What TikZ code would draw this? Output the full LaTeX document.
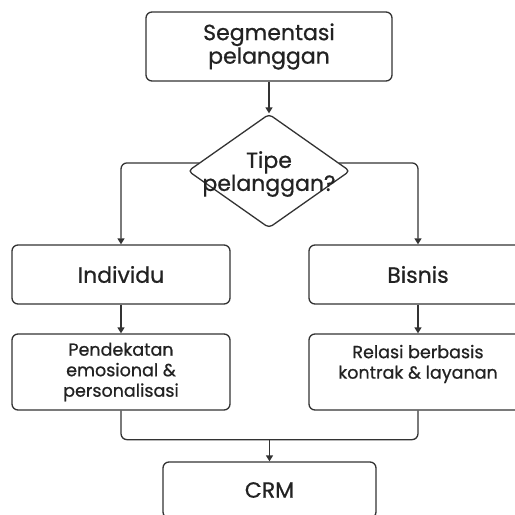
\documentclass[tikz,border=0pt]{standalone}
\usepackage{fontspec}
\setmainfont{Poppins}[FakeBold=0.7]
\usetikzlibrary{shapes.geometric,arrows.meta,calc}
\definecolor{ink}{HTML}{222222}
\definecolor{edge}{HTML}{333333}
\begin{document}
\begin{tikzpicture}[x=1pt,y=-1pt,
  box/.style={draw=edge,line width=1.3pt,rounded corners=6pt,align=center,inner sep=0pt,text=ink},
  big/.style={font=\fontsize{22}{23.5}\selectfont},
  small/.style={font=\fontsize{17.5}{20.5}\selectfont},
  arr/.style={draw=edge,line width=1.3pt,rounded corners=6pt,-{Triangle[length=6pt,width=7pt]}},
  ln/.style={draw=edge,line width=1.3pt,rounded corners=6pt}]
\fill[white] (0,0) rectangle (515,515);
\useasboundingbox (0,0) rectangle (515,515);
\clip (0,0) rectangle (515,515);
\node[box,big,minimum width=246pt,minimum height=69pt] (seg) at (269,46.5) {Segmentasi\\pelanggan};
\node[box,shape=diamond,rounded corners=4pt,minimum width=162pt,minimum height=114pt,
  label={[align=center,text=ink,font=\fontsize{22}{20.5}\selectfont,yshift=-3pt]center:Tipe\\pelanggan?}] (dia) at (269,171) {};
\node[box,big,minimum width=218pt,minimum height=59pt] (ind) at (121,274.5) {Individu};
\node[box,big,minimum width=218pt,minimum height=59pt] (bis) at (418,274.5) {Bisnis};
\node[box,small,minimum width=218pt,minimum height=76pt] (pen) at (121,372) {Pendekatan\\emosional \&\\personalisasi};
\node[box,small,minimum width=218pt,minimum height=76pt] (rel) at (418,372) {Relasi berbasis\\kontrak \& layanan\\\mbox{}};
\node[box,big,minimum width=213pt,minimum height=56pt] (crm) at (269.5,490) {CRM};
\coordinate (dl) at ($(dia.west)!0.14!(dia.north)$);
\coordinate (dr) at ($(dia.east)!0.14!(dia.north)$);
\coordinate (mg) at ($(pen.south)!0.5!(rel.south)+(0,29)$);
\draw[arr] (seg) -- (dia);
\draw[arr] (dl) -| (ind.north);
\draw[arr] (dr) -| (bis.north);
\draw[arr] (ind) -- (pen);
\draw[arr] (bis) -- (rel);
\draw[ln] (pen.south) |- (mg) -| (rel.south);
\draw[arr] (mg) -- (crm.north);
\end{tikzpicture}
\end{document}
